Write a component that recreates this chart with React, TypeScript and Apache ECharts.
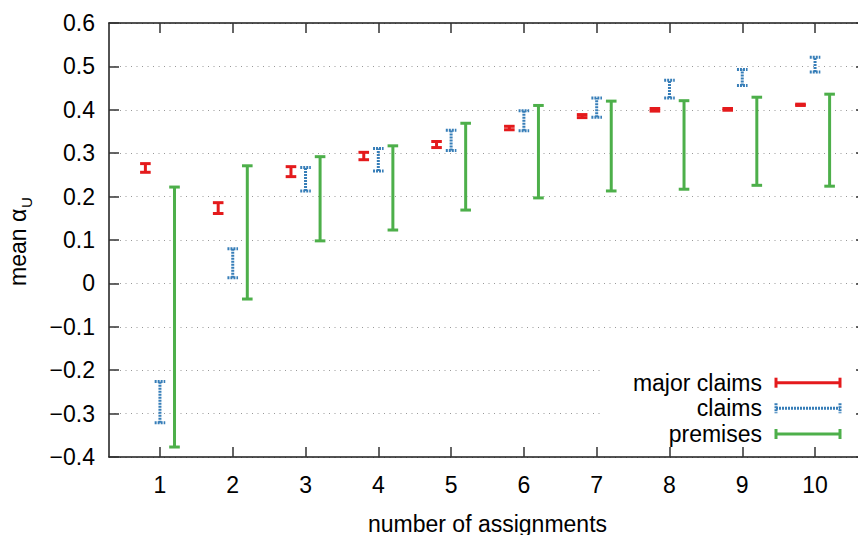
import React, { useEffect, useRef } from "react";
import * as echarts from "echarts";

const assignments = [1, 2, 3, 4, 5, 6, 7, 8, 9, 10];

const majorLow = [0.256, 0.161, 0.246, 0.285, 0.313, 0.354, 0.382, 0.397, 0.399, 0.41];
const majorHigh = [0.276, 0.186, 0.269, 0.302, 0.327, 0.362, 0.389, 0.403, 0.403, 0.413];

const claimsLow = [-0.321, 0.013, 0.213, 0.259, 0.306, 0.352, 0.383, 0.427, 0.456, 0.487];
const claimsHigh = [-0.226, 0.08, 0.267, 0.311, 0.353, 0.398, 0.427, 0.468, 0.493, 0.521];

const premLow = [-0.377, -0.036, 0.098, 0.123, 0.169, 0.197, 0.213, 0.217, 0.226, 0.224];
const premHigh = [0.222, 0.271, 0.292, 0.317, 0.369, 0.41, 0.42, 0.421, 0.429, 0.436];

const seriesNames = ["major claims", "claims", "premises"];
const colors = ["#e41a1c", "#377eb8", "#4daf4a"];

const FONT = "'Liberation Sans', Arial, Helvetica, sans-serif";
const FS = 23;

function fmtY(v: number): string {
  const r = Math.round(v * 10) / 10;
  if (r === 0) return "0";
  return r < 0 ? "\u2212" + Math.abs(r).toFixed(1) : r.toFixed(1);
}

function errSeries(name: string, low: number[], high: number[], color: string, offset: number, dash: number[] | null) {
  const data = assignments.map((a, i) => [a, low[i], high[i]]);
  return {
    type: "custom",
    name,
    xAxisIndex: 0,
    yAxisIndex: 0,
    encode: { x: 0, y: [1, 2] },
    data,
    z: 5,
    renderItem: (params: any, api: any) => {
      const x = api.value(0) + offset;
      const lo = api.coord([x, api.value(1)]);
      const hi = api.coord([x, api.value(2)]);
      const hw = 5.3;
      const style: any = { stroke: color, lineWidth: 3, fill: null };
      if (dash) style.lineDash = dash;
      return {
        type: "group",
        children: [
          { type: "line", shape: { x1: lo[0], y1: lo[1], x2: hi[0], y2: hi[1] }, style },
          { type: "line", shape: { x1: lo[0] - hw, y1: lo[1], x2: lo[0] + hw, y2: lo[1] }, style },
          { type: "line", shape: { x1: hi[0] - hw, y1: hi[1], x2: hi[0] + hw, y2: hi[1] }, style },
        ],
      };
    },
  };
}

export default function App() {
  const ref = useRef<HTMLDivElement>(null);
  useEffect(() => {
    if (!ref.current) return;
    const chart = echarts.init(ref.current, null, { renderer: "svg" });
    const axisLineStyle = { color: "#1a1a1a", width: 1.5 };
    const tickStyle = { color: "#333", width: 1.5 };

    const legendRows = [382.7, 408.3, 434];
    const dashes: (number[] | null)[] = [null, [2, 1], null];
    const legendGraphics: any[] = [
      {
        type: "rect",
        shape: { x: 603, y: 366, width: 250, height: 81 },
        style: { fill: "#fff" },
        z: 100,
      },
    ];
    seriesNames.forEach((n, i) => {
      const y = legendRows[i];
      const st: any = { stroke: colors[i], lineWidth: 3 };
      if (dashes[i]) st.lineDash = dashes[i];
      legendGraphics.push(
        {
          type: "text",
          x: 762,
          y,
          z: 101,
          style: { text: n, fill: "#000", font: `${FS}px ${FONT}`, align: "right", verticalAlign: "middle" },
        },
        { type: "line", z: 101, shape: { x1: 776, y1: y, x2: 840, y2: y }, style: st },
        { type: "line", z: 101, shape: { x1: 776, y1: y - 5, x2: 776, y2: y + 5 }, style: st },
        { type: "line", z: 101, shape: { x1: 840, y1: y - 5, x2: 840, y2: y + 5 }, style: st }
      );
    });

    const yTitle = {
      type: "group",
      x: 27,
      y: 286,
      rotation: Math.PI / 2,
      children: [
        {
          type: "text",
          x: 0,
          y: 2,
          style: { text: "mean \u03b1", fill: "#000", font: `${FS}px ${FONT}`, align: "left", verticalAlign: "bottom" },
        },
        {
          type: "text",
          x: 78,
          y: 7,
          style: { text: "U", fill: "#000", font: `15px ${FONT}`, align: "left", verticalAlign: "bottom" },
        },
      ],
    };

    chart.setOption({
      animation: false,
      backgroundColor: "#fff",
      textStyle: { fontFamily: FONT },
      grid: { left: 109, right: -8, top: 23, bottom: 78, containLabel: false, outerBoundsMode: "none" },
      xAxis: [
        {
          type: "value",
          min: 0.3,
          max: 10.7,
          position: "bottom",
          name: "number of assignments",
          nameLocation: "middle",
          nameGap: 55,
          nameTextStyle: { fontSize: FS, color: "#000", fontFamily: FONT },
          axisLine: { show: true, onZero: false, lineStyle: axisLineStyle },
          axisTick: { show: true, inside: true, length: 10, lineStyle: tickStyle, customValues: assignments },
          axisLabel: { show: true, fontSize: FS, color: "#000", margin: 16, fontFamily: FONT, customValues: assignments },
          splitLine: { show: false },
        },
        {
          type: "value",
          min: 0.3,
          max: 10.7,
          position: "top",
          axisLine: { show: true, onZero: false, lineStyle: axisLineStyle },
          axisTick: { show: true, inside: true, length: 10, lineStyle: tickStyle, customValues: assignments },
          axisLabel: { show: false },
          splitLine: { show: false },
        },
      ],
      yAxis: [
        {
          type: "value",
          min: -0.4,
          max: 0.6,
          interval: 0.1,
          position: "left",
          axisLine: { show: true, onZero: false, lineStyle: axisLineStyle },
          axisTick: { show: true, inside: true, length: 10, lineStyle: tickStyle },
          axisLabel: { show: true, fontSize: FS, color: "#000", margin: 14, fontFamily: FONT, formatter: fmtY },
          splitLine: { show: true, lineStyle: { color: "#999", width: 1, type: [1, 4.5] } },
        },
        {
          type: "value",
          min: -0.4,
          max: 0.6,
          interval: 0.1,
          position: "right",
          axisLine: { show: true, onZero: false, lineStyle: axisLineStyle },
          axisTick: { show: true, inside: true, length: 10, lineStyle: tickStyle },
          axisLabel: { show: false },
          splitLine: { show: false },
        },
      ],
      graphic: [...legendGraphics, yTitle],
      series: [
        errSeries(seriesNames[0], majorLow, majorHigh, colors[0], -0.2, null),
        errSeries(seriesNames[1], claimsLow, claimsHigh, colors[1], 0, [2, 1]),
        errSeries(seriesNames[2], premLow, premHigh, colors[2], 0.2, null),
      ],
    });
    return () => chart.dispose();
  }, []);
  return (
    <div
      ref={ref}
      style={{ position: "absolute", left: 0, top: 0, width: 858, height: 535 }}
    />
  );
}
